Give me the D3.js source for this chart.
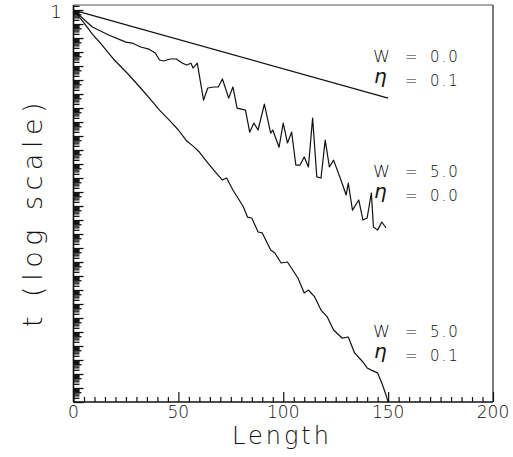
<!DOCTYPE html>
<html><head><meta charset="utf-8">
<script src="https://cdn.jsdelivr.net/npm/d3@7/dist/d3.min.js"></script>
<style>
html,body{margin:0;padding:0;background:#fff;}
svg{display:block;}
text{font-family:"DejaVu Sans",sans-serif;font-weight:200;fill:#111;}
</style></head>
<body>
<svg id="chart" width="513" height="457"></svg>
<script>
// ---- data ----
const xTickLabels = [0, 50, 100, 150, 200];
const yTickLabels = ["1"];
const seriesNames = ["W=0.0, eta=0.1", "W=5.0, eta=0.0", "W=5.0, eta=0.1"];

const lenW0eta01 = [0, 150];
const tW0eta01   = [1, 5.1e-7];

const lenW5eta00 = [0,9,17,25,28,32,36,39,41,43,46,49,52,54,56,57,59,62,64,67,69,71,74,76,78,82,84,86,88,91,94,95,98,100,102,104,106,108,110,112,114,116,118,120,122,124,128,130,131,133,136,138,140,142,143,145,147,149];
const tW5eta00   = [1,6.2e-2,1.6e-2,5.1e-3,4.4e-3,2.3e-3,1.6e-3,8.5e-4,2.7e-4,2.3e-4,3.2e-4,3.2e-4,1.6e-4,1.2e-4,1.6e-4,7.2e-5,1.6e-4,3.7e-7,2.7e-6,3.2e-6,3.2e-6,1.2e-5,5.1e-7,3.2e-6,1e-7,7.2e-8,1.9e-9,8.5e-9,2.7e-9,1.9e-7,1.6e-9,2.7e-9,1.6e-10,8.5e-9,3.2e-10,1.9e-9,8.5e-12,8.5e-12,3.2e-11,6.2e-12,1.9e-8,1.2e-12,1e-12,5.1e-10,6.2e-12,1.9e-11,4.4e-13,6.2e-14,4.4e-13,5.1e-15,2.7e-14,1e-15,1.4e-15,8.5e-14,3.2e-16,1.9e-16,7.2e-16,2.7e-16];

const lenW5eta01 = [0,5,9,14,19,26,32,37,41,46,50,54,57,60,64,68,71,73,76,79,81,83,85,88,90,94,96,99,102,107,110,112,115,118,121,124,128,131,134,138,140,142,145,147,149,150];
const tW5eta01   = [1,1.2e-1,1.9e-2,2.7e-3,3.2e-4,2.7e-5,2.7e-6,3.7e-7,7.2e-8,1.2e-8,2.7e-9,4.4e-10,1.9e-10,7.2e-11,1.2e-11,2.3e-12,7.2e-13,1e-12,1.4e-13,2.7e-14,8.5e-15,1.6e-15,1.4e-15,1.4e-16,1.2e-16,7.2e-18,4.4e-18,8.5e-19,1e-18,7.2e-20,6.2e-21,1e-20,3.2e-21,3.7e-22,1.2e-22,1.4e-23,3.7e-24,4.4e-24,3.2e-25,7.2e-26,2.7e-26,1.9e-26,1.2e-26,2.3e-27,3.2e-28,1e-28];

const labelW   = ["0.0", "5.0", "5.0"];
const labelEta = ["0.1", "0.0", "0.1"];
const labelAnchorT = [1.9e-4, 1.2e-12, 4.4e-24];

// ---- layout ----
const svg = d3.select("#chart");
const L = 73.5, R = 493, T = 5, B = 402;
const x = d3.scaleLinear().domain([0, 200]).range([L, R]);
const y = d3.scaleLog().domain([1e-28, 2.3]).range([B, T]);

// frame
svg.append("line").attr("x1", L).attr("x2", R).attr("y1", T).attr("y2", T).attr("stroke", "#555").attr("stroke-width", 1);
svg.append("line").attr("x1", R).attr("x2", R).attr("y1", T).attr("y2", B).attr("stroke", "#222").attr("stroke-width", 1.2);

// x axis (ticks inward)
const xMinor = d3.range(0, 201, 5);
const xAxis = d3.axisTop(x).tickValues(xMinor).tickSize(5).tickFormat("");
const gx = svg.append("g").attr("transform", `translate(0,${B})`).call(xAxis);
gx.select(".domain").remove();
gx.selectAll("line").attr("stroke", "#111").attr("stroke-width", 1.2)
  .attr("y2", d => xTickLabels.includes(d) ? -10 : -5);
svg.append("line").attr("x1", L).attr("x2", R).attr("y1", B).attr("y2", B).attr("stroke", "#111").attr("stroke-width", 1.6);
svg.append("g").selectAll("text").data(xTickLabels).join("text")
  .attr("x", d => x(d)).attr("y", 418).attr("text-anchor", "middle")
  .attr("font-size", 17).text(d => d);

// y axis (log, ticks inward)
const yTicks = [];
for (let e = -28; e <= 0; e++) for (let m = 1; m <= 9; m++) { const v = m * Math.pow(10, e); if (v <= 2.3) yTicks.push(v); }
const yAxis = d3.axisRight(y).tickValues(yTicks).tickSize(6).tickFormat("");
const gy = svg.append("g").attr("transform", `translate(${L},0)`).call(yAxis);
gy.select(".domain").remove();
gy.selectAll("line").attr("stroke", "#111").attr("stroke-width", 1.3)
  .attr("x2", d => { const m = Math.round(d / Math.pow(10, Math.floor(Math.log10(d) + 1e-9))); return m === 1 ? 10 : (m === 5 ? 8 : 6); });
svg.append("line").attr("x1", L).attr("x2", L).attr("y1", T).attr("y2", B).attr("stroke", "#111").attr("stroke-width", 1.6);
svg.append("text").attr("x", 56).attr("y", y(1) + 8).attr("text-anchor", "middle").attr("font-size", 18).text(yTickLabels[0]);

// axis titles
svg.append("text").attr("x", 282).attr("y", 444).attr("text-anchor", "middle")
  .attr("font-size", 24).attr("letter-spacing", 3).text("Length");
svg.append("text").attr("transform", "translate(42,212) rotate(-90)").attr("text-anchor", "middle")
  .attr("font-size", 27).attr("letter-spacing", 5.5).text("t (log scale)");

// series
const line = d3.line().x(d => x(d[0])).y(d => y(d[1]));
const series = [
  d3.zip(lenW0eta01, tW0eta01),
  d3.zip(lenW5eta00, tW5eta00),
  d3.zip(lenW5eta01, tW5eta01)
];
svg.append("g").selectAll("path").data(series).join("path")
  .attr("d", line).attr("fill", "none").attr("stroke", "#111").attr("stroke-width", 1.2)
  .attr("stroke-linejoin", "round");

// annotations
const ann = svg.append("g");
labelW.forEach((w, i) => {
  const yy = y(labelAnchorT[i]);
  ann.append("text").attr("x", 373).attr("y", yy).attr("font-size", 15)
    .attr("transform", `translate(373,${yy}) scale(1.15,1) translate(-373,${-yy})`).text("W");
  ann.append("text").attr("x", 405).attr("y", yy).attr("font-size", 15).text("=");
  ann.append("text").attr("x", 430).attr("y", yy).attr("font-size", 15).attr("letter-spacing", 2).text(w);
  ann.append("text").attr("x", 374).attr("y", yy + 21).attr("font-size", 20)
    .attr("font-family", "'DejaVu Serif', serif").attr("font-style", "italic").attr("font-weight", 400).text("η");
  ann.append("text").attr("x", 405).attr("y", yy + 24).attr("font-size", 15).text("=");
  ann.append("text").attr("x", 430).attr("y", yy + 24).attr("font-size", 15).attr("letter-spacing", 2).text(labelEta[i]);
});
</script>
</body></html>
